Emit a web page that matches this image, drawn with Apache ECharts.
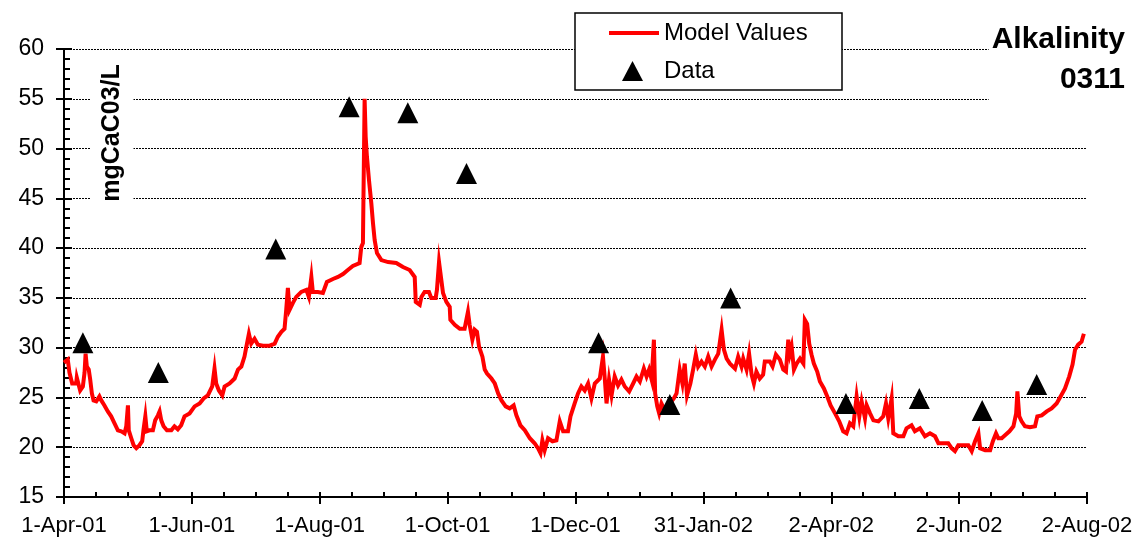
<!DOCTYPE html>
<html>
<head>
<meta charset="utf-8">
<title>Alkalinity 0311</title>
<script src="https://cdn.jsdelivr.net/npm/echarts@6/dist/echarts.min.js"></script>
<style>
  html, body { margin: 0; padding: 0; background: #ffffff; }
  #chart { width: 1141px; height: 544px; }
</style>
</head>
<body>
<div id="chart"></div>
<script>
// Days counted from 1-Apr-2001; ticks every 61 days.
const tickLabels = ['1-Apr-01', '1-Jun-01', '1-Aug-01', '1-Oct-01', '1-Dec-01',
                    '31-Jan-02', '2-Apr-02', '2-Jun-02', '2-Aug-02'];

// Simulated alkalinity (mgCaCO3/L)
const modelDay = [
  0, 1.8, 2.6, 3.9, 5.8, 6.1, 7.7, 9.0, 9.8, 10.3, 10.9, 11.8, 12.5, 13.3, 14.1, 15.4, 16.9, 17.8, 19.3, 20.9,
  22.5, 24.1, 25.7, 27.3, 28.9, 29.7, 30.5, 30.9, 32.1, 33.2, 34.5, 36.0, 37.3, 37.9, 38.8, 39.5, 40.8, 42.4, 43.5, 44.8,
  45.6, 46.4, 47.5, 49.1, 51.2, 52.7, 54.3, 55.9, 57.5, 59.9, 62.3, 64.7, 66.6, 68.6, 70.7, 71.8, 72.6, 73.9, 75.5, 76.6,
  79.0, 81.4, 83.0, 84.6, 86.1, 87.0, 88.2, 89.3, 90.9, 92.5, 94.9, 98.1, 100.5, 102.0, 103.7, 105.2, 106.0, 106.8, 107.6, 109.2,
  110.8, 113.2, 115.6, 116.8, 118.0, 118.7, 121.1, 123.5, 125.4, 128.3, 130.7, 133.1, 135.4, 137.8, 141.0, 141.8, 142.6, 143.4, 143.9, 144.5,
  145.5, 146.6, 147.4, 148.2, 149.3, 151.4, 154.6, 158.5, 161.7, 164.9, 165.7, 167.3, 167.8, 169.7, 170.5, 172.0, 174.1, 175.2, 177.3, 177.9,
  178.9, 180.0, 180.8, 182.4, 184.0, 184.3, 186.4, 188.8, 191.1, 192.7, 193.5, 194.8, 195.9, 197.0, 198.0, 199.6, 200.7, 201.8, 203.9, 205.5,
  207.1, 208.7, 210.7, 212.6, 214.5, 215.8, 217.7, 219.8, 222.2, 224.5, 226.1, 227.3, 228.2, 229.3, 230.9, 233.0, 234.9, 236.5, 238.1, 240.4,
  241.6, 243.6, 245.2, 246.8, 248.4, 250.0, 251.6, 253.2, 255.6, 257.1, 258.0, 258.8, 260.0, 261.2, 262.7, 264.3, 265.9, 267.5, 269.6, 271.5,
  273.1, 274.7, 276.6, 277.9, 279.1, 280.3, 281.4, 282.0, 283.0, 283.9, 285.0, 286.6, 289.0, 290.9, 292.2, 293.7, 295.0, 296.1, 297.2, 298.8,
  300.1, 301.4, 302.5, 304.1, 305.7, 307.3, 308.9, 310.5, 312.1, 313.7, 314.8, 316.1, 317.7, 320.1, 321.6, 323.2, 324.0, 325.6, 326.8, 328.0,
  329.1, 330.3, 331.9, 333.5, 334.3, 336.7, 338.0, 339.6, 341.5, 343.1, 344.4, 345.5, 346.3, 347.1, 348.2, 349.5, 351.1, 352.7, 353.4, 354.5,
  355.5, 356.6, 357.7, 359.3, 360.6, 362.5, 364.1, 365.7, 367.8, 369.8, 371.7, 373.3, 374.9, 376.5, 378.1, 379.4, 380.5, 382.1, 382.9, 384.5,
  386.1, 388.5, 390.8, 392.1, 393.2, 394.8, 395.6, 398.0, 400.4, 401.9, 404.3, 405.9, 408.3, 410.7, 413.1, 415.5, 417.1, 419.4, 421.8, 423.4,
  425.0, 426.6, 429.0, 431.4, 433.0, 434.6, 436.2, 437.0, 439.4, 441.8, 443.1, 444.6, 445.7, 447.3, 448.9, 451.0, 452.9, 454.2, 454.8, 455.7,
  456.8, 458.4, 460.8, 463.2, 464.3, 466.4, 468.8, 471.1, 473.5, 475.4, 477.5, 479.5, 481.1, 482.3, 483.8, 485.4, 486.5
];
const modelAlk = [
  28.5, 28.8, 27.5, 26.4, 26.4, 27.0, 25.7, 26.1, 27.5, 29.4, 28.1, 27.8, 26.8, 25.4, 24.7, 24.6, 25.1, 24.7, 24.2, 23.6,
  23.1, 22.4, 21.7, 21.6, 21.4, 22.1, 24.2, 21.7, 20.9, 20.2, 19.9, 20.2, 20.6, 21.7, 23.1, 21.6, 21.7, 21.7, 22.7, 23.2,
  23.6, 22.7, 22.1, 21.7, 21.7, 22.1, 21.8, 22.2, 23.1, 23.4, 24.1, 24.4, 24.9, 25.2, 26.1, 27.9, 26.4, 25.7, 25.2, 26.1,
  26.4, 26.9, 27.8, 28.1, 29.1, 30.1, 31.4, 30.4, 30.9, 30.3, 30.2, 30.2, 30.4, 31.1, 31.6, 31.9, 33.8, 36.0, 33.8, 34.5,
  35.1, 35.6, 35.8, 35.1, 37.1, 35.6, 35.6, 35.5, 36.6, 36.9, 37.1, 37.4, 37.8, 38.2, 38.5, 40.1, 40.5, 55.0, 51.2, 49.2,
  46.8, 44.5, 42.5, 40.8, 39.5, 38.8, 38.6, 38.5, 38.1, 37.8, 37.6, 37.1, 34.6, 34.3, 35.1, 35.6, 35.6, 35.0, 35.0, 35.8,
  38.6, 36.8, 35.5, 34.6, 34.1, 32.8, 32.3, 31.9, 31.9, 33.6, 32.3, 30.8, 31.8, 31.6, 30.1, 29.1, 27.8, 27.4, 26.9, 26.4,
  25.4, 24.7, 24.1, 23.9, 24.2, 23.2, 22.2, 21.7, 20.9, 20.4, 19.9, 19.4, 20.7, 19.7, 20.9, 20.6, 20.7, 22.6, 21.6, 21.6,
  23.1, 24.4, 25.4, 26.1, 25.7, 26.4, 24.9, 26.4, 26.9, 29.1, 26.8, 24.4, 26.8, 25.2, 27.1, 26.2, 26.8, 26.1, 25.6, 26.4,
  27.1, 26.6, 27.9, 27.1, 27.8, 26.8, 30.8, 25.4, 24.1, 23.4, 24.4, 23.7, 24.4, 24.9, 25.4, 27.8, 26.4, 28.4, 25.2, 26.4,
  27.8, 29.3, 28.1, 28.6, 28.1, 29.1, 28.1, 28.8, 29.4, 31.8, 29.8, 28.9, 28.4, 27.9, 29.1, 28.1, 28.9, 27.8, 29.4, 27.3,
  26.4, 27.6, 26.9, 27.3, 28.6, 28.6, 28.1, 29.3, 28.8, 27.8, 27.6, 30.8, 29.4, 30.1, 27.8, 28.4, 28.9, 28.4, 32.8, 32.4,
  30.4, 29.3, 28.4, 27.6, 26.6, 25.9, 25.1, 24.2, 23.4, 22.6, 21.6, 21.4, 22.4, 22.1, 25.1, 23.1, 24.6, 22.9, 24.2, 23.4,
  22.7, 22.6, 23.1, 24.4, 22.9, 24.9, 21.4, 21.1, 21.1, 21.9, 22.2, 21.6, 21.9, 21.1, 21.4, 21.1, 20.4, 20.4, 20.4, 19.9,
  19.6, 20.2, 20.2, 20.2, 19.6, 20.6, 21.4, 19.9, 19.7, 19.7, 20.6, 21.4, 20.9, 20.9, 21.2, 21.6, 22.1, 23.4, 25.6, 23.1,
  22.6, 22.1, 22.0, 22.1, 23.1, 23.2, 23.6, 23.9, 24.4, 25.1, 25.9, 27.1, 28.3, 29.8, 30.3, 30.6, 31.4
];

// Measured alkalinity samples
const obsDay = [9, 45, 101, 136, 164, 192, 255, 289, 318, 373, 408, 438, 464];
const obsAlk = [30.5, 27.5, 39.9, 54.2, 53.6, 47.5, 30.5, 24.3, 35.0, 24.4, 24.9, 23.7, 26.3];

const FONT = "'Liberation Sans', Arial, Helvetica, sans-serif";

const modelData = modelDay.map((d, i) => [d, modelAlk[i]]);
const obsData = obsDay.map((d, i) => [d, obsAlk[i]]);

const xCommon = {
  type: 'value', min: 0, max: 488, interval: 61,
  axisLine: { show: true, onZero: false, lineStyle: { color: '#000', width: 2 } },
  splitLine: { show: false }
};
const yCommon = {
  type: 'value', min: 15, max: 60, interval: 5,
  axisLine: { show: true, onZero: false, lineStyle: { color: '#000', width: 2 } }
};

const chart = echarts.init(document.getElementById('chart'), null, { renderer: 'canvas' });
chart.setOption({
  animation: false,
  backgroundColor: '#ffffff',
  textStyle: { fontFamily: FONT, color: '#000' },
  grid: { left: 64, right: 54, top: 49, bottom: 47, containLabel: false },
  xAxis: [
    Object.assign({}, xCommon, {
      position: 'bottom',
      axisTick: { show: true, inside: true, length: 5, lineStyle: { color: '#000', width: 2 } },
      minorTick: { show: true, splitNumber: 4, length: 5, lineStyle: { color: '#000', width: 2 } },
      axisLabel: { show: false }
    }),
    Object.assign({}, xCommon, {
      position: 'bottom',
      axisTick: { show: true, inside: false, length: 7, lineStyle: { color: '#000', width: 2 } },
      axisLabel: {
        show: true, margin: 18, fontSize: 22, color: '#000', fontFamily: FONT,
        formatter: v => tickLabels[Math.round(v / 61)]
      }
    })
  ],
  yAxis: [
    Object.assign({}, yCommon, {
      position: 'left',
      axisTick: { show: true, inside: true, length: 8, lineStyle: { color: '#000', width: 2 } },
      minorTick: { show: true, splitNumber: 5, length: 6, lineStyle: { color: '#000', width: 2 } },
      axisLabel: { show: false },
      splitLine: { show: true, lineStyle: { color: '#000', width: 1, type: [2, 1] } }
    }),
    Object.assign({}, yCommon, {
      position: 'left',
      axisTick: { show: true, inside: false, length: 8, lineStyle: { color: '#000', width: 2 } },
      axisLabel: { show: true, margin: 20, fontSize: 23, color: '#000', fontFamily: FONT },
      splitLine: { show: false }
    })
  ],
  title: {
    text: 'Alkalinity\n0311',
    right: 'right', top: 12,
    padding: [8, 16, 6, 3],
    backgroundColor: '#ffffff',
    z: 10,
    textStyle: { fontFamily: FONT, fontSize: 30, fontWeight: 'bold', lineHeight: 40, color: '#000' }
  },
  legend: [
    {
      data: [{ name: 'Model Values', icon: 'rect' }], left: 609, top: 21, padding: 0, z: 10,
      itemWidth: 50, itemHeight: 4, selectedMode: false,
      textStyle: { fontFamily: FONT, fontSize: 24, lineHeight: 24, color: '#000' }
    },
    {
      data: ['Data'], left: 622, top: 59, padding: 0, z: 10,
      itemWidth: 21, itemHeight: 20, selectedMode: false,
      textStyle: { fontFamily: FONT, fontSize: 24, lineHeight: 24, color: '#000', padding: [0, 0, 0, 16] }
    }
  ],
  graphic: [
    {
      type: 'rect', z: 5,
      shape: { x: 575, y: 13, width: 267, height: 77 },
      style: { fill: '#ffffff', stroke: '#000', lineWidth: 1.5 }
    },
    {
      type: 'text', z: 5,
      x: 112, y: 133, rotation: Math.PI / 2,
      style: {
        text: 'mgCaC03/L',
        font: "bold 25px 'Liberation Sans', Arial, sans-serif",
        fill: '#000',
        align: 'center', verticalAlign: 'middle',
        textAlign: 'center', textVerticalAlign: 'middle',
        backgroundColor: '#ffffff', padding: [9, 4]
      }
    }
  ],
  series: [
    {
      name: 'Model Values', type: 'line', xAxisIndex: 0, yAxisIndex: 0,
      data: modelData, symbol: 'none', showSymbol: false, smooth: false,
      lineStyle: { color: '#ff0000', width: 4, join: 'miter' },
      itemStyle: { color: '#ff0000' },
      z: 3
    },
    {
      name: 'Data', type: 'scatter', xAxisIndex: 0, yAxisIndex: 0,
      data: obsData, symbol: 'triangle', symbolSize: 21,
      itemStyle: { color: '#000000', opacity: 1 },
      z: 4
    }
  ]
});
</script>
</body>
</html>
